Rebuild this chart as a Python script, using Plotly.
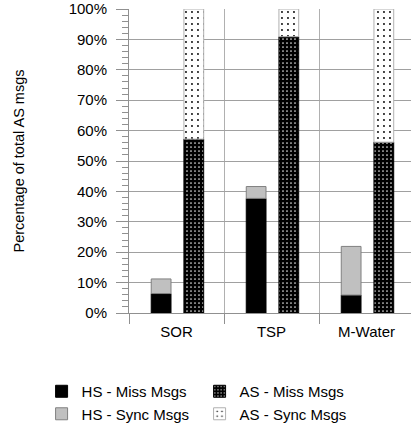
import plotly.graph_objects as go

categories = ["SOR", "TSP", "M-Water"]
hs_miss = [6.4, 37.7, 5.9]
hs_sync = [4.8, 3.9, 16.0]
as_miss = [57.2, 90.9, 56.2]
as_sync = [42.8, 9.1, 43.8]

FONT = "Arial, Liberation Sans, sans-serif"
HS_OFF, AS_OFF, W = -0.266, 0.078, 0.208

fig = go.Figure()
fig.add_trace(go.Bar(
    x=categories, y=hs_miss, name="HS - Miss Msgs", offset=HS_OFF, width=W,
    marker=dict(color="black", line=dict(color="black", width=1)), legendrank=1))
fig.add_trace(go.Bar(
    x=categories, y=as_miss, name="AS - Miss Msgs", offset=AS_OFF, width=W,
    marker=dict(color="black", line=dict(color="black", width=1),
                pattern=dict(shape=".", bgcolor="black", fgcolor="#e0e0e0",
                             size=4, solidity=0.15, fillmode="replace")),
    legendrank=2))
fig.add_trace(go.Bar(
    x=categories, y=hs_sync, base=hs_miss, name="HS - Sync Msgs", offset=HS_OFF, width=W,
    marker=dict(color="#c0c0c0", line=dict(color="#808080", width=1)), legendrank=3))
fig.add_trace(go.Bar(
    x=categories, y=as_sync, base=as_miss, name="AS - Sync Msgs", offset=AS_OFF, width=W,
    marker=dict(color="white", line=dict(color="#b0b0b0", width=1),
                pattern=dict(shape=".", bgcolor="white", fgcolor="black",
                             size=6, solidity=0.08, fillmode="replace")),
    legendrank=4))

fig.update_layout(
    width=411, height=428,
    margin=dict(l=129, r=0, t=9, b=115, autoexpand=False),
    barmode="overlay",
    plot_bgcolor="white", paper_bgcolor="white",
    font=dict(family=FONT, size=15, color="black"),
    showlegend=True,
    legend=dict(orientation="h", x=-0.31, xanchor="left", y=-0.204, yanchor="top",
                entrywidth=113, entrywidthmode="pixels", traceorder="normal",
                font=dict(size=15), bgcolor="rgba(0,0,0,0)"),
)
fig.update_xaxes(
    range=[-0.5, 2.468], tickson="boundaries", ticks="outside", ticklen=10,
    tickcolor="#909090", showgrid=True, gridcolor="#b0b0b0", gridwidth=1,
    showline=True, linecolor="#909090", linewidth=1, automargin=False,
    tickfont=dict(size=15), ticklabelstandoff=5,
)
fig.update_yaxes(
    range=[0, 100], tickvals=list(range(0, 101, 10)),
    ticktext=[f"{v}%" for v in range(0, 101, 10)],
    ticks="outside", ticklen=12, tickcolor="#909090",
    showgrid=True, gridcolor="#a0a0a0", gridwidth=1,
    showline=True, linecolor="#909090", linewidth=1, zeroline=False, automargin=False,
    minor=dict(dtick=2, ticks="outside", ticklen=6, tickcolor="#909090", showgrid=False),
    tickfont=dict(size=15), ticklabelstandoff=6, ticklabeloverflow="allow",
    title=dict(text="Percentage of total AS msgs", font=dict(size=14.5), standoff=40),
)

fig.write_html("out.html", config={"displayModeBar": False},
               post_script="document.body.style.margin='0';document.body.style.overflow='hidden';")
